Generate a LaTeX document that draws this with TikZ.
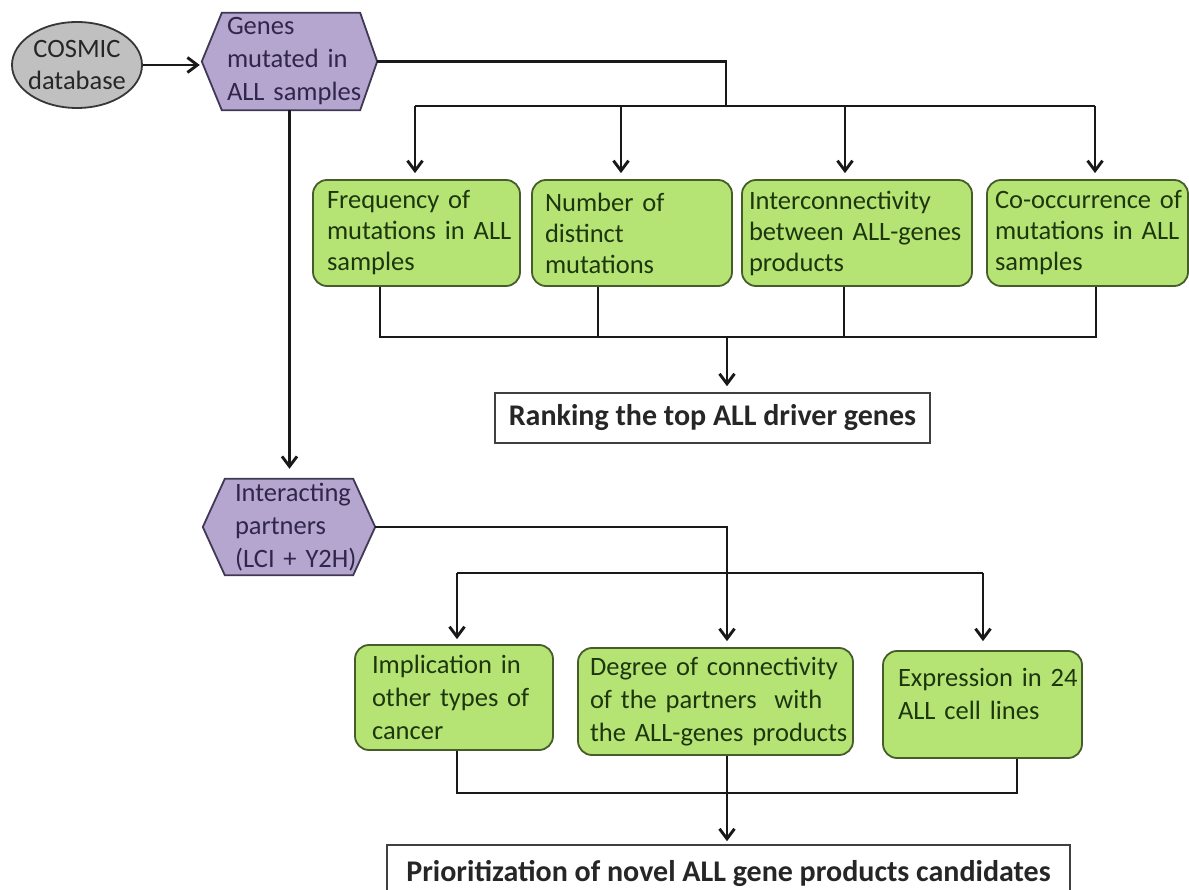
\documentclass[tikz,border=0pt]{standalone}
\usepackage{fontspec}
\setmainfont{Carlito}
\usetikzlibrary{arrows.meta,shapes.geometric,backgrounds,calc}
\definecolor{boxgreen}{RGB}{182,228,116}
\definecolor{greenline}{RGB}{70,92,42}
\definecolor{greentext}{RGB}{30,54,14}
\definecolor{hexfill}{RGB}{180,166,206}
\definecolor{hexedge}{RGB}{64,56,84}
\definecolor{hextext}{RGB}{48,38,74}
\definecolor{dbfill}{RGB}{192,192,192}
\definecolor{dbedge}{RGB}{55,55,55}

\begin{document}
\begin{tikzpicture}[x=1pt,y=-1pt,
  conn/.style={line width=2.9pt, black!90},
  arr/.style={conn, -{Straight Barb[length=10pt,width=15pt]}, shorten >=6pt},
  crit/.style={draw=greenline, line width=1.8pt, fill=boxgreen, rounded corners=14pt,
    text=greentext, align=left, inner ysep=0pt, font=\fontsize{26.5}{31}\selectfont},
  critlow/.style={crit, font=\fontsize{26.5}{33}\selectfont},
  hexnode/.style={inner sep=0pt, align=left, text=hextext, font=\fontsize{26.5}{33}\selectfont},
  hexshape/.style={draw=hexedge, fill=hexfill, line width=1.8pt, line join=miter},
  result/.style={draw=black!75, line width=1.6pt, fill=white, text=black!85,
    font=\bfseries\fontsize{30}{36}\selectfont}
]
\useasboundingbox (0,0) rectangle (1189,890);

% sources
\node[ellipse, draw=dbedge, fill=dbfill, line width=1.8pt, minimum width=130, minimum height=86,
  inner sep=-6pt, align=center, text=black!85, font=\fontsize{26.5}{32}\selectfont]
  (cosmic) at (77,65) {COSMIC\\database};
\node[hexnode, minimum width=175, minimum height=97, text width=125]
  (genes) at (289.5,61.5) {\mbox{Genes}\\\mbox{mutated in}\\\mbox{ALL samples}};
\node[hexnode, minimum width=172, minimum height=96, text width=108]
  (inter) at (289,527) {\mbox{Interacting}\\\mbox{partners}\\\mbox{(LCI + Y2H)}};

\begin{scope}[on background layer]
  \draw[hexshape] (genes.west) -- ($(genes.north west)+(20,0)$) -- ($(genes.north east)+(-17,0)$)
    -- (genes.east) -- ($(genes.south east)+(-17,0)$) -- ($(genes.south west)+(20,0)$) -- cycle;
  \draw[hexshape] (inter.west) -- ($(inter.north west)+(22,0)$) -- ($(inter.north east)+(-22,0)$)
    -- (inter.east) -- ($(inter.south east)+(-22,0)$) -- ($(inter.south west)+(22,0)$) -- cycle;
\end{scope}

% criteria for the driver genes
\node[crit, text width=179, inner xsep=14pt, minimum height=106] (f1) at (416.5,233)
  {\mbox{Frequency of}\\\mbox{mutations in ALL}\\\mbox{samples}};
\node[crit, text width=174, inner xsep=13pt, minimum height=106] (f2) at (632,233)
  {\mbox{Number of}\\\mbox{distinct}\\\mbox{mutations}};
\node[crit, text width=216, inner xsep=7pt, minimum height=106] (f3) at (857,233)
  {\mbox{Interconnectivity}\\\mbox{between ALL-genes}\\\mbox{products}};
\node[crit, text width=185, inner xsep=8pt, minimum height=106] (f4) at (1087.5,233)
  {\mbox{Co-occurrence of}\\\mbox{mutations in ALL}\\\mbox{samples}};

\node[result, anchor=west, inner xsep=14pt, minimum height=50] (rank) at (494,418)
  {Ranking the top ALL driver genes};

% criteria for the partners
\node[critlow, text width=164, inner xsep=17pt, minimum height=105] (impl) at (454,697.5)
  {\mbox{Implication in}\\\mbox{other types of}\\\mbox{cancer}};
\node[critlow, text width=251, inner xsep=12pt, minimum height=107] (deg) at (715.5,701.5)
  {\mbox{Degree of connectivity}\\\mbox{of the partners\ \ with}\\\mbox{the ALL-genes products}};
\node[critlow, text width=169, inner xsep=15pt, minimum height=107] (expr) at (982.5,704.5)
  {\mbox{Expression in 24}\\\mbox{ALL cell lines}\\[-12pt]\mbox{}};

\node[result, minimum width=683, minimum height=56] (prio) at (728.5,873)
  {Prioritization of novel ALL gene products candidates};

% upper flow
\draw[arr, shorten >=2pt] (cosmic.east) -- (cosmic.east -| genes.west);
\coordinate (j1) at (726,106);
\coordinate (a1) at (415,106);
\coordinate (a2) at (621,106);
\coordinate (a3) at (845,106);
\coordinate (a4) at (1095,106);
\draw[conn] (genes.east) -| (j1);
\draw[conn] (a1) -- (a4);
\draw[arr] (a1) -- (a1 |- f1.north);
\draw[arr] (a2) -- (a2 |- f2.north);
\draw[arr] (a3) -- (a3 |- f3.north);
\draw[arr] (a4) -- (a4 |- f4.north);

\coordinate (b1) at (380,337);
\coordinate (b2) at (598,337);
\coordinate (b3) at (844,337);
\coordinate (b4) at (1096,337);
\coordinate (b0) at (727,337);
\draw[conn] (b1 |- f1.south) -- (b1) -- (b4) -- (b4 |- f4.south);
\draw[conn] (b2 |- f2.south) -- (b2);
\draw[conn] (b3 |- f3.south) -- (b3);
\draw[arr] (b0) -- (b0 |- rank.north);

% lower flow
\draw[arr, shorten >=10pt] (genes.south) -- (genes.south |- inter.north);
\coordinate (j2) at (727,573);
\coordinate (c1) at (457,573);
\coordinate (c3) at (983,573);
\draw[conn] (inter.east) -| (j2);
\draw[conn] (c1) -- (c3);
\draw[arr, shorten >=5pt] (c1) -- (c1 |- impl.north);
\draw[arr] (j2) -- (j2 |- deg.north);
\draw[arr, shorten >=9pt] (c3) -- (c3 |- expr.north);

\coordinate (d1) at (457,793);
\coordinate (d3) at (1017,793);
\draw[conn] (d1 |- impl.south) -- (d1) -- (d3) -- (d3 |- expr.south);
\draw[arr, shorten >=3pt] (j2 |- deg.south) -- (j2 |- prio.north);
\end{tikzpicture}
\end{document}
